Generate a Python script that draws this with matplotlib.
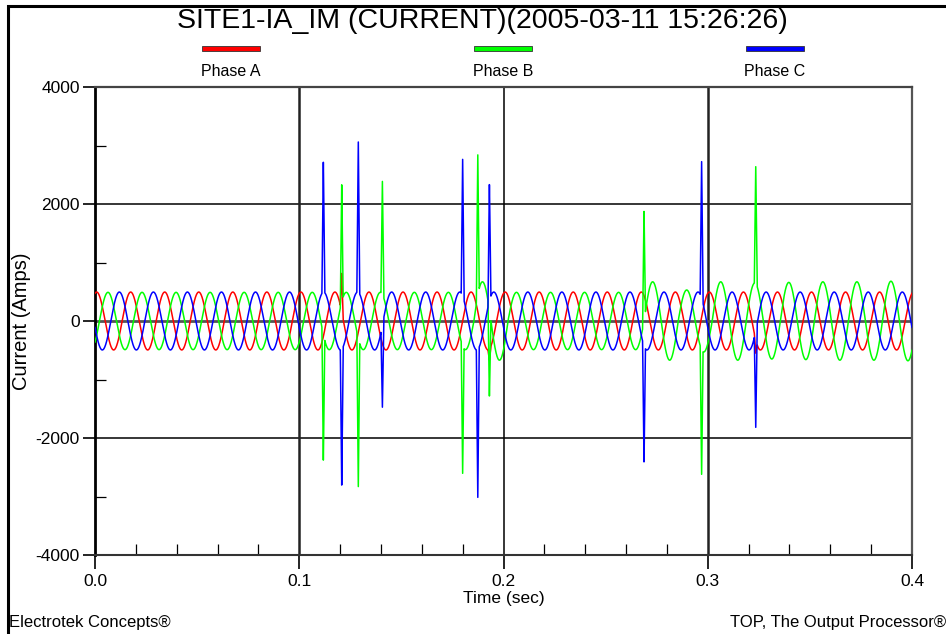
"""Three-phase current waveform capture (TOP style plot)."""
import numpy as np
import matplotlib
matplotlib.use("Agg")
import matplotlib.pyplot as plt
from matplotlib.patches import Rectangle
from matplotlib.ticker import MultipleLocator

# --------------------------------------------------------------------------- #
# Data
# --------------------------------------------------------------------------- #
freq = 60.0                     # Hz
t_end = 0.4                     # s
t_peak_a = 0.0008               # first positive peak of phase A [s]
phase_labels = ["Phase A", "Phase B", "Phase C"]
phase_colors = ["#ff0000", "#00ff00", "#0000ff"]

# peak amplitude of every cycle (cycle k is centred on the k-th positive peak)
amp_a = [495, 495, 495, 495, 495, 495, 495, 495, 495, 495, 495, 495, 495,
         495, 495, 495, 495, 495, 495, 495, 495, 495, 495, 495, 495]
amp_b = [490, 490, 490, 490, 490, 490, 490, 490, 490, 490, 490, 670, 490,
         490, 490, 490, 670, 530, 670, 650, 660, 670, 670, 680, 680]
amp_c = [495, 495, 495, 495, 495, 495, 495, 495, 495, 495, 495, 495, 495,
         495, 495, 495, 495, 495, 495, 495, 495, 495, 495, 495, 495]

# switching transients: time and peak value per phase (nan = no spike)
spike_t = [0.1118, 0.1208, 0.1289, 0.1407, 0.1800, 0.1874, 0.1931,
           0.2688, 0.2970, 0.3235]
spike_a = [np.nan, 820, np.nan, np.nan, np.nan, np.nan, -670,
           np.nan, np.nan, -550]
spike_b = [-2405, 2353, -2890, 2410, -2604, 2895, -1322,
           1897, -2621, 2638]
spike_c = [2740, -2832, 3123, -1492, 2763, -3077, 2382,
           -2433, 2724, -1818]

y_ticks = [-4000, -2000, 0, 2000, 4000]
x_ticks = [0.0, 0.1, 0.2, 0.3, 0.4]


def phase_wave(t, t_peak, amps, spikes):
    T = 1.0 / freq
    k = np.floor((t - t_peak + T / 4) / T).astype(int)
    k = np.clip(k, 0, len(amps) - 1)
    base = np.asarray(amps, float)[k] * np.cos(2 * np.pi * freq * (t - t_peak))
    v = base.copy()
    hw = 0.0007
    for ts, pk in zip(spike_t, spikes):
        if np.isnan(pk):
            continue
        b0 = np.interp(ts, t, base)
        shape = np.clip(1 - np.abs(t - ts) / hw, 0, None)
        v += (pk - b0) * shape
    return v


dt = 1.0 / (freq * 400)
t = np.arange(0, t_end + dt / 2, dt)
T = 1.0 / freq
ia = phase_wave(t, t_peak_a, amp_a, spike_a)
ib = phase_wave(t, t_peak_a + T / 3, amp_b, spike_b)
ic = phase_wave(t, t_peak_a + 2 * T / 3, amp_c, spike_c)

# --------------------------------------------------------------------------- #
# Plot
# --------------------------------------------------------------------------- #
plt.rcParams["font.family"] = ["Liberation Sans", "DejaVu Sans"]

fig = plt.figure(figsize=(9.46, 6.34), dpi=100)
fig.patch.set_facecolor("white")
ax = fig.add_axes([95 / 946, 1 - 555 / 634, (912 - 95) / 946,
                   (555 - 87) / 634])

for y, c in zip([ia, ib, ic], phase_colors):
    ax.plot(t, y, color=c, lw=1.1, zorder=3)

# grid / reference lines
ax.axhline(0, color="#555555", lw=2.0, zorder=2)
for yy in (2000, -2000):
    ax.axhline(yy, color="k", lw=1.1, zorder=1)
ax.axvline(0.1, color="#222222", lw=1.8, zorder=1)
ax.axvline(0.2, color="k", lw=1.1, zorder=1)
ax.axvline(0.3, color="#222222", lw=1.8, zorder=1)

ax.set_xlim(0, t_end)
ax.set_ylim(-4000, 4000)
ax.set_xticks(x_ticks)
ax.set_xticklabels([f"{v:.1f}" for v in x_ticks])
ax.set_yticks(y_ticks)
ax.set_yticklabels([str(v) for v in y_ticks])
ax.xaxis.set_minor_locator(MultipleLocator(0.02))
ax.yaxis.set_minor_locator(MultipleLocator(1000))
ax.tick_params(which="major", direction="out", length=9, width=1.2,
               labelsize=12.5, pad=2)
ax.tick_params(which="minor", direction="in", length=8, width=0.9)
ax.tick_params(axis="x", which="major", length=10, pad=4)

ax.spines["left"].set_linewidth(2.0)
ax.spines["left"].set_color("k")
ax.spines["bottom"].set_linewidth(1.5)
ax.spines["bottom"].set_color("#333333")
ax.spines["top"].set_linewidth(1.6)
ax.spines["top"].set_color("#444444")
ax.spines["right"].set_linewidth(1.6)
ax.spines["right"].set_color("#555555")

ax.set_xlabel("Time (sec)", fontsize=12.5, labelpad=1)
ax.set_ylabel("Current (Amps)", fontsize=14.5, labelpad=3)

fig.text(482 / 946, 1 - 21 / 634,
         "SITE1-IA_IM (CURRENT)(2005-03-11 15:26:26)",
         ha="center", va="center", fontsize=20.5)

# legend: coloured bars with names below
for cx, lab, c in zip([231, 503, 775], phase_labels, phase_colors):
    fig.patches.append(Rectangle(((cx - 29) / 946, 1 - 51 / 634), 58 / 946,
                                 5 / 634, transform=fig.transFigure,
                                 facecolor=c, edgecolor="#333333", lw=0.6))
    fig.text(cx / 946, 1 - 72 / 634, lab, ha="center", va="center",
             fontsize=11.5)

fig.text(9 / 946, 1 - 622 / 634, "Electrotek Concepts®", ha="left",
         va="center", fontsize=12)
fig.text(946 / 946, 1 - 622 / 634, "TOP, The Output Processor®",
         ha="right", va="center", fontsize=12)

# outer frame (cut off on the right and bottom, as in the capture)
fig.patches.append(Rectangle((8 / 946, -0.05), 1.0, 1 - 6 / 634 + 0.05,
                             transform=fig.transFigure, fill=False,
                             edgecolor="k", lw=2.2))

fig.savefig("out.png", dpi=100)
